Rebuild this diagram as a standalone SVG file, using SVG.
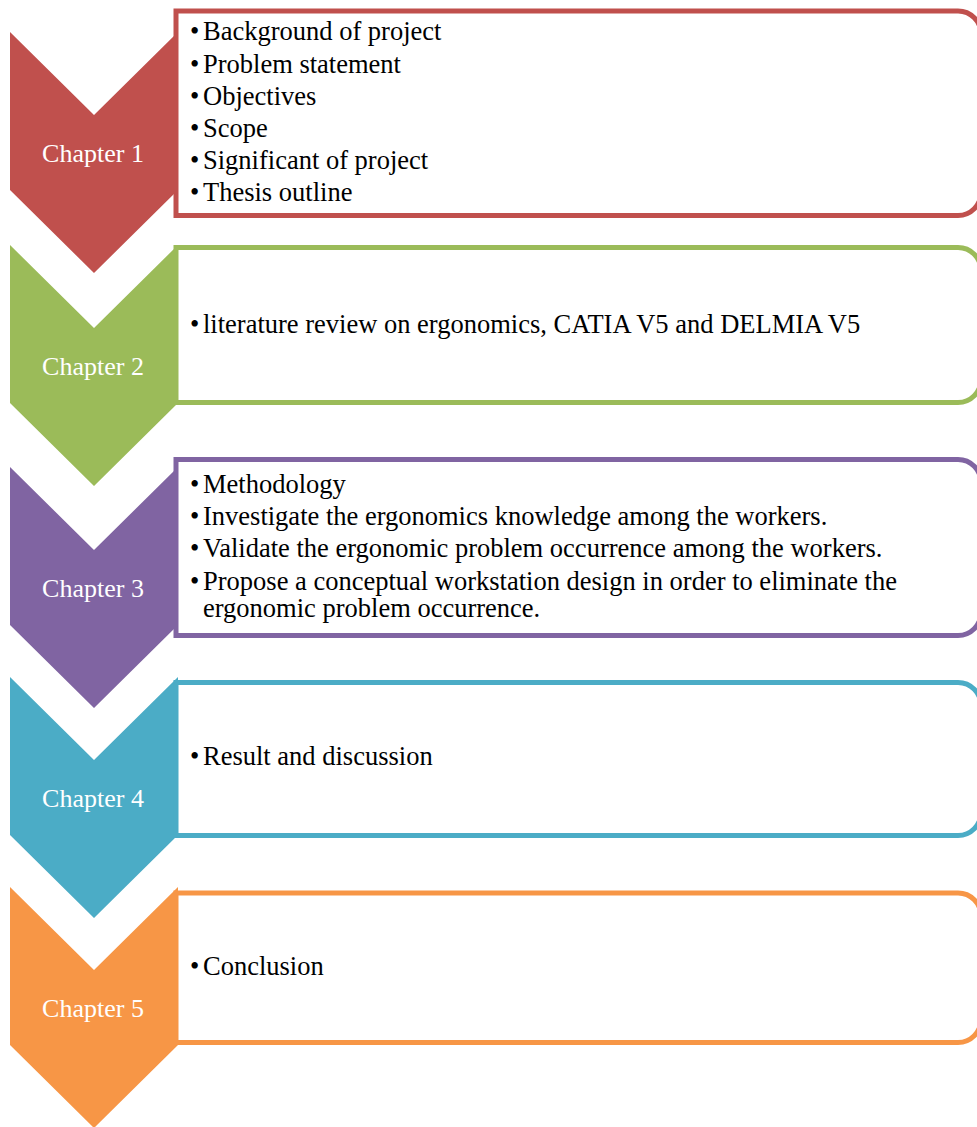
<svg xmlns="http://www.w3.org/2000/svg" width="977" height="1127" viewBox="0 0 977 1127">
<style>
.lbl{font-family:"Liberation Serif","Times New Roman",serif;font-size:26px;fill:#fff;text-anchor:middle}
.txt{font-family:"Liberation Serif","Times New Roman",serif;font-size:26.5px;fill:#000}
.box{fill:#fff;stroke-width:5}
</style>
<defs>
<path id="chev" d="M10,0 L94,83 L178,0 L178,158 L94,241 L10,158 Z"/>
</defs>
<rect width="977" height="1127" fill="#fff"/>
<g id="chapter1">
<use href="#chev" y="32" fill="#C0504D"/>
<path class="box" stroke="#C0504D" d="M176,11 H958 A23,23 0 0 1 981,34 V192.5 A23,23 0 0 1 958,215.5 H176 Z"/>
<text class="lbl" x="93" y="162">Chapter 1</text>
<text class="txt"><tspan x="190" y="40">•</tspan><tspan x="203" y="40">Background of project</tspan><tspan x="190" y="72.5">•</tspan><tspan x="203" y="72.5">Problem statement</tspan><tspan x="190" y="104.5">•</tspan><tspan x="203" y="104.5">Objectives</tspan><tspan x="190" y="137">•</tspan><tspan x="203" y="137">Scope</tspan><tspan x="190" y="168.5">•</tspan><tspan x="203" y="168.5">Significant of project</tspan><tspan x="190" y="200.5">•</tspan><tspan x="203" y="200.5">Thesis outline</tspan></text>
</g>
<g id="chapter2">
<use href="#chev" y="245" fill="#9BBB59"/>
<path class="box" stroke="#9BBB59" d="M176,247.5 H958 A23,23 0 0 1 981,270.5 V379.5 A23,23 0 0 1 958,402.5 H176 Z"/>
<text class="lbl" x="93" y="375">Chapter 2</text>
<text class="txt"><tspan x="190" y="333">•</tspan><tspan x="203" y="333">literature review on ergonomics, CATIA V5 and DELMIA V5</tspan></text>
</g>
<g id="chapter3">
<use href="#chev" y="467" fill="#8064A2"/>
<path class="box" stroke="#8064A2" d="M176,459.5 H958 A23,23 0 0 1 981,482.5 V612.5 A23,23 0 0 1 958,635.5 H176 Z"/>
<text class="lbl" x="93" y="597">Chapter 3</text>
<text class="txt"><tspan x="190" y="493">•</tspan><tspan x="203" y="493">Methodology</tspan><tspan x="190" y="525">•</tspan><tspan x="203" y="525">Investigate the ergonomics knowledge among the workers.</tspan><tspan x="190" y="557">•</tspan><tspan x="203" y="557">Validate the ergonomic problem occurrence among the workers.</tspan><tspan x="190" y="589.5">•</tspan><tspan x="203" y="589.5">Propose a conceptual workstation design in order to eliminate the</tspan><tspan x="203" y="617">ergonomic problem occurrence.</tspan></text>
</g>
<g id="chapter4">
<use href="#chev" y="677" fill="#4BACC6"/>
<path class="box" stroke="#4BACC6" d="M176,682.5 H958 A23,23 0 0 1 981,705.5 V812.5 A23,23 0 0 1 958,835.5 H176 Z"/>
<text class="lbl" x="93" y="807">Chapter 4</text>
<text class="txt"><tspan x="190" y="765">•</tspan><tspan x="203" y="765">Result and discussion</tspan></text>
</g>
<g id="chapter5">
<use href="#chev" y="887" fill="#F79646"/>
<path class="box" stroke="#F79646" d="M176,893 H958 A23,23 0 0 1 981,916 V1019.5 A23,23 0 0 1 958,1042.5 H176 Z"/>
<text class="lbl" x="93" y="1017">Chapter 5</text>
<text class="txt"><tspan x="190" y="975">•</tspan><tspan x="203" y="975">Conclusion</tspan></text>
</g>
<g id="connectors"/>
</svg>
